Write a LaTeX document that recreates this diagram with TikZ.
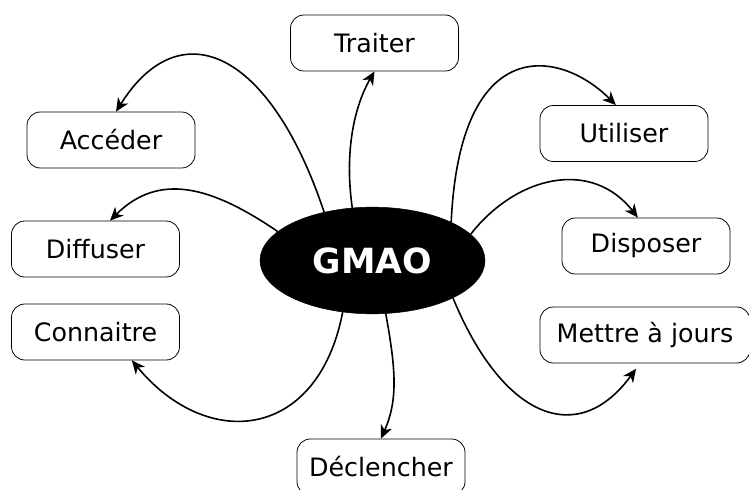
\documentclass[tikz,border=0pt]{standalone}
\usepackage{fontspec}
\setmainfont{DejaVu Sans}
\usetikzlibrary{shapes,arrows.meta}
\tikzset{
    verb/.style={draw, line width=0.6pt, rounded corners=10pt, minimum width=126pt, minimum height=42pt, inner sep=2pt, font=\fontsize{19}{22}\selectfont},
    core/.style={draw, ellipse, fill=black, text=white, minimum width=168.75pt, minimum height=80pt, font=\fontsize{26}{30}\selectfont\bfseries},
    link/.style={line width=1.2pt, -{Stealth[length=10pt, width=9pt, inset=3pt]}},
}

\begin{document}
\begin{tikzpicture}[x=0.75pt, y=-0.75pt]
    \useasboundingbox (0,0) rectangle (749,489);

    % Central node
    \node[core] (gmao) at (372.5,260.5) {GMAO};

    % Actions
    \node[verb] (traiter) at (374.5,43) {Traiter};
    \node[verb] (acceder) at (111,140) {Accéder};
    \node[verb] (diffuser) at (95.5,249) {Diffuser};
    \node[verb] (connaitre) at (95.5,332) {Connaitre};
    \node[verb] (declencher) at (381,467) {Déclencher};
    \node[verb] (utiliser) at (624,133.5) {Utiliser};
    \node[verb] (disposer) at (646,246) {Disposer};
    \node[verb, minimum width=157.5pt] (mettre) at (645,335) {Mettre à jours};

    % Left branches
    \draw[link] (gmao.135) .. controls (270,50) and (180,10) .. (acceder.80);
    \draw[link] (gmao.111) .. controls (344,150) and (355,105) .. (traiter.south);
    \draw[link] (gmao.163) .. controls (211,186) and (159,172) .. (diffuser.63);
    \draw[link] (gmao.240) .. controls (318,440) and (208,452) .. (connaitre.322);

    % Right branches
    \draw[link] (gmao.284) .. controls (396,370) and (398,400) .. (declencher.north);
    \draw[link, shorten >=5pt] (gmao.335) .. controls (503,419) and (578,448) .. (mettre.260);
    \draw[link] (gmao.26) .. controls (460,32) and (560,49) .. (utiliser.106);
    \draw[link] (gmao.15) .. controls (517,175) and (592,159) .. (disposer.106);
\end{tikzpicture}
\end{document}
